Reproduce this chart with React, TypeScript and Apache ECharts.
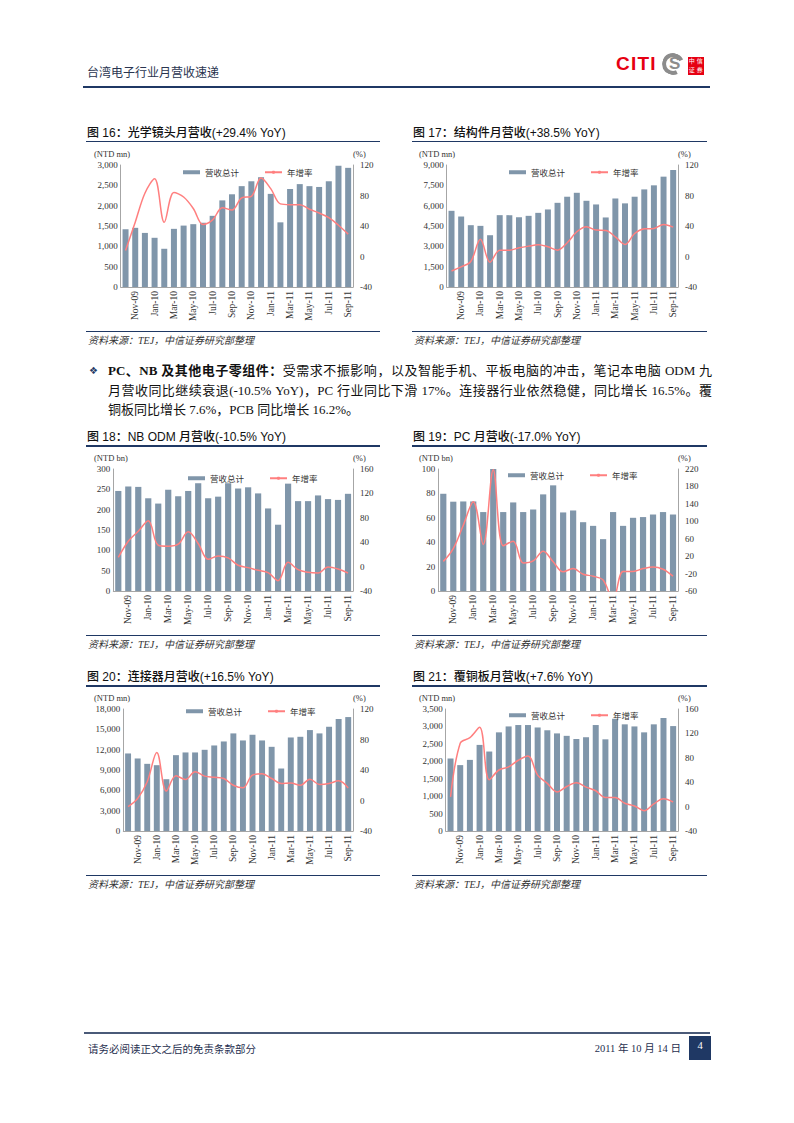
import React, { useEffect, useRef } from "react";
import * as echarts from "echarts";

// ---------- data ----------
const months = [
  "Oct-09", "Nov-09", "Dec-09", "Jan-10", "Feb-10", "Mar-10", "Apr-10", "May-10",
  "Jun-10", "Jul-10", "Aug-10", "Sep-10", "Oct-10", "Nov-10", "Dec-10", "Jan-11",
  "Feb-11", "Mar-11", "Apr-11", "May-11", "Jun-11", "Jul-11", "Aug-11", "Sep-11",
];

const lensRevenue = [1420, 1455, 1330, 1210, 940, 1430, 1510, 1545, 1580, 1750, 2130, 2280, 2480, 2600, 2700, 2290, 1590, 2410, 2530, 2480, 2460, 2600, 2980, 2930];
const lensYoY = [8, 45, 83, 102, 45, 84, 78, 63, 42, 48, 64, 61, 77, 79, 103, 89, 69, 68, 68, 62, 57, 51, 41, 29.4];

const structRevenue = [5620, 5200, 4560, 4510, 3820, 5300, 5300, 5150, 5250, 5470, 5720, 6210, 6660, 6950, 6360, 6090, 5130, 6530, 6170, 6660, 7200, 7500, 8140, 8630];
const structYoY = [-19, -13.6, -6.6, 22.7, -7.5, 8.3, 8.3, 11.4, 13.6, 15.3, 12.7, 8.3, 18, 32.4, 39, 34.6, 34.2, 25.8, 15.8, 30.2, 36.3, 36.8, 42, 38.5];

const nbRevenue = [246, 257, 256, 228, 215, 249, 233, 246, 265, 228, 232, 265, 252, 255, 240, 203, 163, 264, 221, 221, 235, 226, 224, 239];
const nbYoY = [15, 41.6, 58, 75, 35, 33.4, 36.7, 57, 37.8, 12, 17.5, 14.2, 2.2, -1.7, -6, -9.9, -23, 7, -5, -9.3, -10.4, -0.6, -3.9, -10.5];

const pcRevenue = [79.7, 73.2, 73.4, 73.4, 64.7, 100, 64.7, 72.6, 64.7, 66.9, 79.2, 86.6, 64.4, 66, 56.4, 53.4, 42.5, 64.7, 53.4, 60, 60.6, 62.7, 64.7, 62.7];
const pcYoY = [8, 37.5, 91, 145, 47, 218, 44, 54, 4.5, 9, 31, 7, -16, -8.6, -21.6, -26, -35, -80, -15, -15, -8.6, -4.7, -10, -26];

const connRevenue = [11440, 10700, 9910, 9710, 7640, 11190, 11590, 11590, 11980, 12620, 13210, 14400, 13360, 14200, 13360, 12420, 9220, 13800, 13900, 14890, 14400, 15380, 16520, 16810];
const connYoY = [-8, 2.6, 24.5, 63, 12.3, 32.4, 27.6, 37.7, 32, 30.6, 28.9, 20, 16.6, 33.3, 35, 28.9, 22.3, 22.8, 20, 28, 21, 22.3, 25.8, 16.5];

const cclRevenue = [2080, 1890, 2040, 2470, 2280, 2830, 3000, 3040, 3040, 2970, 2890, 2800, 2730, 2640, 2690, 3040, 2630, 3220, 3060, 3000, 2830, 3060, 3240, 3010];
const cclYoY = [16, 104, 113, 130, 44, 60, 65, 76, 83, 51.5, 38, 24, 33, 39, 32, 26, 15, 15, 5.5, 1, -6.6, 4.4, 13, 7.6];

const legendNames = ["营收总计", "年增率"];

// ---------- styles ----------
const SERIF = "'Liberation Serif', 'Times New Roman', serif";
const CJK = "'Noto Sans CJK SC', sans-serif";
const SANS_CJK = "'Liberation Sans', 'Noto Sans CJK SC', sans-serif";
const SERIF_CJK = "'Liberation Serif', 'Noto Sans CJK SC', serif";
const NAVY = "#1f3864";
const BAR = "#8096aa";
const LINE = "#ff7f7f";
const AXIS = "#a6a6a6";
const LABEL = "#333333";

const colX = [80, 405];
const lineStart = [86, 412];
const lineEnd = [380, 707];
const rowLine = [141.7, 446, 686];

type Def = {
  title: string;
  unit: string;
  col: number;
  row: number;
  revenue: number[];
  yoy: number[];
  leftMax: number;
  leftInterval: number;
  rightMin: number;
  rightMax: number;
  gridLeft: number;
  legendLeft: number;
  legendOffset: number;
  thousands: boolean;
};

const defs: Def[] = [
  { title: "图 16：光学镜头月营收(+29.4% YoY)", unit: "(NTD mn)", col: 0, row: 0, revenue: lensRevenue, yoy: lensYoY, leftMax: 3000, leftInterval: 500, rightMin: -40, rightMax: 120, gridLeft: 40.7, legendLeft: 98, legendOffset: 3, thousands: true },
  { title: "图 17：结构件月营收(+38.5% YoY)", unit: "(NTD mn)", col: 1, row: 0, revenue: structRevenue, yoy: structYoY, leftMax: 9000, leftInterval: 1500, rightMin: -40, rightMax: 120, gridLeft: 41.7, legendLeft: 99, legendOffset: 3, thousands: true },
  { title: "图 18：NB ODM 月营收(-10.5% YoY)", unit: "(NTD bn)", col: 0, row: 1, revenue: nbRevenue, yoy: nbYoY, leftMax: 300, leftInterval: 50, rightMin: -40, rightMax: 160, gridLeft: 33.3, legendLeft: 103, legendOffset: 5, thousands: false },
  { title: "图 19：PC 月营收(-17.0% YoY)", unit: "(NTD bn)", col: 1, row: 1, revenue: pcRevenue, yoy: pcYoY, leftMax: 100, leftInterval: 20, rightMin: -60, rightMax: 220, gridLeft: 33.3, legendLeft: 98, legendOffset: 2, thousands: false },
  { title: "图 20：连接器月营收(+16.5% YoY)", unit: "(NTD mn)", col: 0, row: 2, revenue: connRevenue, yoy: connYoY, leftMax: 18000, leftInterval: 3000, rightMin: -40, rightMax: 120, gridLeft: 43.3, legendLeft: 101, legendOffset: -2, thousands: true },
  { title: "图 21：覆铜板月营收(+7.6% YoY)", unit: "(NTD mn)", col: 1, row: 2, revenue: cclRevenue, yoy: cclYoY, leftMax: 3500, leftInterval: 500, rightMin: -40, rightMax: 160, gridLeft: 40.7, legendLeft: 99, legendOffset: 2, thousands: true },
];

const CH_W = 310;
const CH_H = 188;
const GRID_TOP = 22;
const GRID_BOTTOM = 44;
const GRID_RIGHT = 37;

function buildOption(d: Def) {
  const plotRight = CH_W - GRID_RIGHT;
  return {
    animation: false,
    textStyle: { fontFamily: SERIF },
    grid: { left: d.gridLeft, right: GRID_RIGHT, top: GRID_TOP, bottom: GRID_BOTTOM },
    legend: {
      left: d.legendLeft,
      top: GRID_TOP + d.legendOffset - 5,
      itemWidth: 17,
      itemHeight: 4,
      itemGap: 25,
      textStyle: { fontFamily: CJK, fontSize: 8.5, color: LABEL },
      data: [{ name: legendNames[0], icon: "rect" }, { name: legendNames[1] }],
    },
    xAxis: {
      type: "category",
      data: months,
      axisLine: { show: true, lineStyle: { color: AXIS, width: 1 } },
      axisTick: { show: false },
      axisLabel: {
        rotate: 90,
        interval: (i: number) => i % 2 === 1,
        fontFamily: SERIF,
        fontSize: 9.5,
        color: LABEL,
        margin: 4,
      },
    },
    yAxis: [
      {
        type: "value",
        min: 0,
        max: d.leftMax,
        interval: d.leftInterval,
        axisLine: { show: true, lineStyle: { color: AXIS, width: 1 } },
        axisTick: { show: false },
        splitLine: { show: false },
        axisLabel: {
          fontFamily: SERIF,
          fontSize: 9,
          color: LABEL,
          margin: 3,
          formatter: (v: number) => (d.thousands ? v.toLocaleString("en-US") : String(v)),
        },
      },
      {
        type: "value",
        position: "right",
        min: d.rightMin,
        max: d.rightMax,
        interval: 40,
        axisLine: { show: true, lineStyle: { color: AXIS, width: 1 } },
        axisTick: { show: false },
        splitLine: { show: false },
        axisLabel: { fontFamily: SERIF, fontSize: 9, color: LABEL, margin: 7 },
      },
    ],
    series: [
      {
        name: legendNames[0],
        type: "bar",
        data: d.revenue,
        yAxisIndex: 0,
        barWidth: "62%",
        itemStyle: { color: BAR },
      },
      {
        name: legendNames[1],
        type: "line",
        data: d.yoy,
        yAxisIndex: 1,
        smooth: 0.35,
        symbol: "none",
        lineStyle: { color: LINE, width: 1.5 },
        itemStyle: { color: LINE },
      },
    ],
    graphic: [
      {
        type: "text",
        left: 14,
        top: 6,
        style: { text: d.unit, fontFamily: SERIF, fontSize: 8.5, fill: LABEL },
      },
      {
        type: "text",
        left: plotRight,
        top: 6,
        style: { text: "(%)", fontFamily: SERIF, fontSize: 8.5, fill: LABEL },
      },
    ],
  };
}

function Chart({ d }: { d: Def }) {
  const ref = useRef<HTMLDivElement>(null);
  useEffect(() => {
    const chart = echarts.init(ref.current!, undefined, { renderer: "svg" });
    chart.setOption(buildOption(d) as any);
    return () => chart.dispose();
  }, [d]);
  return (
    <div
      ref={ref}
      style={{ position: "absolute", left: colX[d.col], top: rowLine[d.row] + 1, width: CH_W, height: CH_H }}
    />
  );
}

function Rule({ x1, x2, y, h = 1.3, color = NAVY }: { x1: number; x2: number; y: number; h?: number; color?: string }) {
  return <div style={{ position: "absolute", left: x1, top: y - h / 2, width: x2 - x1, height: h, background: color }} />;
}

function Panel({ d }: { d: Def }) {
  const ly = rowLine[d.row];
  const x1 = lineStart[d.col];
  const x2 = lineEnd[d.col];
  return (
    <>
      <div
        style={{
          position: "absolute",
          left: x1 + 1,
          top: ly - 17,
          height: 16,
          lineHeight: "16px",
          fontFamily: SANS_CJK,
          fontSize: 12,
          fontWeight: 500,
          color: "#111",
          whiteSpace: "nowrap",
        }}
      >
        {d.title}
      </div>
      <Rule x1={x1} x2={x2} y={ly} />
      <Chart d={d} />
      <Rule x1={x1} x2={x2} y={ly + 189.5} h={1.2} />
      <div
        style={{
          position: "absolute",
          left: x1 + 2,
          top: ly + 192,
          height: 14,
          lineHeight: "14px",
          fontFamily: SERIF_CJK,
          fontStyle: "italic",
          fontSize: 10,
          color: "#333",
          whiteSpace: "nowrap",
        }}
      >
        资料来源：TEJ，中信证券研究部整理
      </div>
    </>
  );
}

function Logo() {
  const boxes = ["中", "信", "证", "券"];
  return (
    <>
      <div
        style={{
          position: "absolute",
          left: 616,
          top: 53,
          height: 22,
          lineHeight: "22px",
          fontFamily: "'Liberation Sans', sans-serif",
          fontWeight: 900,
          fontSize: 19,
          letterSpacing: 1.2,
          color: "#e60012",
        }}
      >
        CITI
      </div>
      <div
        style={{
          position: "absolute",
          left: 662,
          top: 53,
          width: 14,
          height: 14,
          border: "4px solid #8c8c8c",
          borderRightColor: "transparent",
          borderRadius: "50%",
          transform: "rotate(20deg)",
        }}
      />
      <div
        style={{
          position: "absolute",
          left: 669,
          top: 54,
          height: 20,
          lineHeight: "20px",
          fontFamily: "'Liberation Sans', sans-serif",
          fontWeight: 700,
          fontSize: 17,
          color: "#8c8c8c",
        }}
      >
        S
      </div>
      {boxes.map((c, i) => (
        <div
          key={c}
          style={{
            position: "absolute",
            left: 688 + (i % 2) * 8,
            top: 57 + Math.floor(i / 2) * 9,
            width: 7.5,
            height: 8.5,
            background: "#e60012",
            color: "#fff",
            fontFamily: CJK,
            fontSize: 6,
            lineHeight: "8.5px",
            textAlign: "center",
          }}
        >
          {c}
        </div>
      ))}
    </>
  );
}

const paraLine: React.CSSProperties = {
  position: "absolute",
  left: 108,
  width: 604,
  height: 20,
  lineHeight: "20px",
  fontFamily: SERIF_CJK,
  fontSize: 13,
  color: "#111",
  whiteSpace: "nowrap",
};

export default function App() {
  return (
    <div
      style={{
        position: "absolute",
        left: 0,
        top: 0,
        width: 794,
        height: 1123,
        background: "#fff",
        overflow: "hidden",
      }}
    >
      {/* header */}
      <div
        style={{
          position: "absolute",
          left: 87,
          top: 64,
          height: 16,
          lineHeight: "16px",
          fontFamily: CJK,
          fontSize: 12,
          color: "#2a3550",
          whiteSpace: "nowrap",
        }}
      >
        台湾电子行业月营收速递
      </div>
      <Logo />
      <Rule x1={83} x2={710} y={86.7} h={2} />

      {defs.map((d, i) => (
        <Panel key={i} d={d} />
      ))}

      {/* paragraph */}
      <div
        style={{
          position: "absolute",
          left: 89,
          top: 361,
          height: 20,
          lineHeight: "20px",
          fontFamily: "'DejaVu Sans', sans-serif",
          fontSize: 10,
          color: NAVY,
        }}
      >
        ❖
      </div>
      <div style={{ ...paraLine, top: 361, textAlign: "justify", textAlignLast: "justify" } as React.CSSProperties}>
        <b>PC、NB 及其他电子零组件：</b>受需求不振影响，以及智能手机、平板电脑的冲击，笔记本电脑 ODM 九
      </div>
      <div style={{ ...paraLine, top: 381, textAlign: "justify", textAlignLast: "justify" } as React.CSSProperties}>
        月营收同比继续衰退(-10.5% YoY)，PC 行业同比下滑 17%。连接器行业依然稳健，同比增长 16.5%。覆
      </div>
      <div style={{ ...paraLine, top: 400 }}>铜板同比增长 7.6%，PCB 同比增长 16.2%。</div>

      {/* footer */}
      <Rule x1={84} x2={710} y={1033} h={1.3} color="#4a5a78" />
      <div
        style={{
          position: "absolute",
          left: 88,
          top: 1041,
          height: 16,
          lineHeight: "16px",
          fontFamily: CJK,
          fontSize: 10.5,
          color: "#1f2f4f",
          whiteSpace: "nowrap",
        }}
      >
        请务必阅读正文之后的免责条款部分
      </div>
      <div
        style={{
          position: "absolute",
          right: 794 - 681,
          top: 1041,
          height: 16,
          lineHeight: "16px",
          fontFamily: SERIF_CJK,
          fontSize: 10.5,
          color: "#1f2f4f",
          whiteSpace: "nowrap",
        }}
      >
        2011 年 10 月 14 日
      </div>
      <div
        style={{
          position: "absolute",
          left: 689,
          top: 1036,
          width: 22,
          height: 24,
          background: NAVY,
          color: "#fff",
          fontFamily: SERIF,
          fontSize: 10.5,
          lineHeight: "20px",
          textAlign: "center",
        }}
      >
        4
      </div>
    </div>
  );
}
